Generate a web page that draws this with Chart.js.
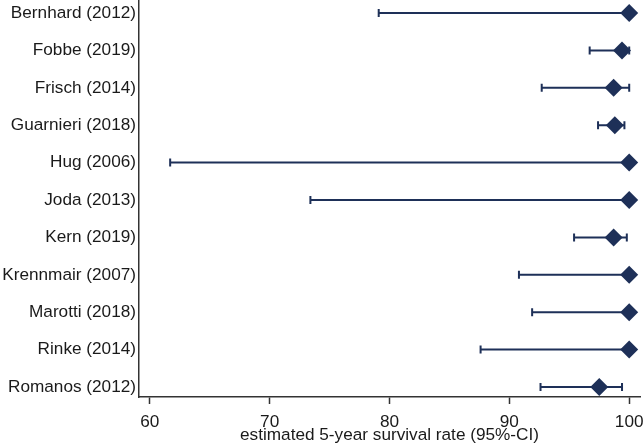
<!DOCTYPE html>
<html>
<head>
<meta charset="utf-8">
<script src="https://cdn.jsdelivr.net/npm/chart.js@4"></script>
<style>
html,body{margin:0;padding:0;background:#fff;}
#wrap{width:644px;height:446px;}
</style>
</head>
<body>
<div id="wrap"><canvas id="c" width="644" height="446"></canvas></div>
<script>
const studies = ["Bernhard (2012)","Fobbe (2019)","Frisch (2014)","Guarnieri (2018)","Hug (2006)","Joda (2013)","Kern (2019)","Krennmair (2007)","Marotti (2018)","Rinke (2014)","Romanos (2012)"];
const estimate = [100, 99.4, 98.7, 98.8, 100, 100, 98.7, 100, 100, 100, 97.5];
const lowerCI  = [79.1, 96.7, 92.7, 97.4, 61.7, 73.4, 95.4, 90.8, 91.9, 87.6, 92.6];
const upperCI  = [100, 100, 100, 99.6, 100, 100, 99.8, 100, 100, 100, 99.4];
const xTicks = [60, 70, 80, 90, 100];

const navy = '#1e3058';
const textColor = '#1a1a1a';
const font = {family: 'Liberation Sans, Arial, sans-serif', size: 17.2};

const whiskers = {
  id: 'whiskers',
  beforeDatasetsDraw(chart) {
    const {ctx, scales: {x, y}} = chart;
    ctx.save();
    ctx.strokeStyle = navy;
    ctx.lineWidth = 2;
    for (let i = 0; i < studies.length; i++) {
      const py = y.getPixelForValue(i);
      const x1 = x.getPixelForValue(lowerCI[i]);
      const x2 = x.getPixelForValue(upperCI[i]);
      ctx.beginPath();
      ctx.moveTo(x1, py); ctx.lineTo(x2, py);
      ctx.moveTo(x1, py - 4); ctx.lineTo(x1, py + 4);
      ctx.moveTo(x2, py - 4); ctx.lineTo(x2, py + 4);
      ctx.stroke();
    }
    ctx.restore();
  }
};

new Chart(document.getElementById('c'), {
  type: 'scatter',
  data: {
    datasets: [{
      data: estimate.map((v, i) => ({x: v, y: i})),
      pointStyle: 'rectRot',
      pointRadius: 9,
      pointHoverRadius: 9,
      backgroundColor: navy,
      borderColor: navy,
      borderWidth: 0,
      clip: false
    }]
  },
  options: {
    responsive: false,
    animation: false,
    layout: {autoPadding: false, padding: {right: 4, top: 0, left: 0, bottom: 0}},
    plugins: {legend: {display: false}, tooltip: {enabled: false}},
    scales: {
      x: {
        type: 'linear',
        min: 59.1,
        max: 100.9,
        afterBuildTicks(s) { s.ticks = xTicks.map(v => ({value: v})); },
        grid: {drawOnChartArea: false, drawTicks: true, tickLength: 7, tickColor: '#333', tickWidth: 1.5},
        border: {color: '#333', width: 1.5},
        ticks: {color: textColor, font: font, padding: 8, maxRotation: 0},
        title: {display: true, text: 'estimated 5-year survival rate (95%-CI)', color: textColor, font: font, padding: {top: 0, bottom: 0}},
        afterFit(s) { s.height = 49; s.paddingLeft = 0; s.paddingRight = 0; }
      },
      y: {
        type: 'linear',
        reverse: true,
        min: -0.35,
        max: 10.27,
        afterBuildTicks(s) { s.ticks = studies.map((_, i) => ({value: i})); },
        grid: {drawOnChartArea: false, drawTicks: false},
        border: {color: '#333', width: 1.5},
        ticks: {color: textColor, font: font, padding: 3, callback: v => studies[v]},
        afterFit(s) { s.width = 139; s.paddingTop = 0; s.paddingBottom = 0; }
      }
    }
  },
  plugins: [whiskers]
});
</script>
</body>
</html>
